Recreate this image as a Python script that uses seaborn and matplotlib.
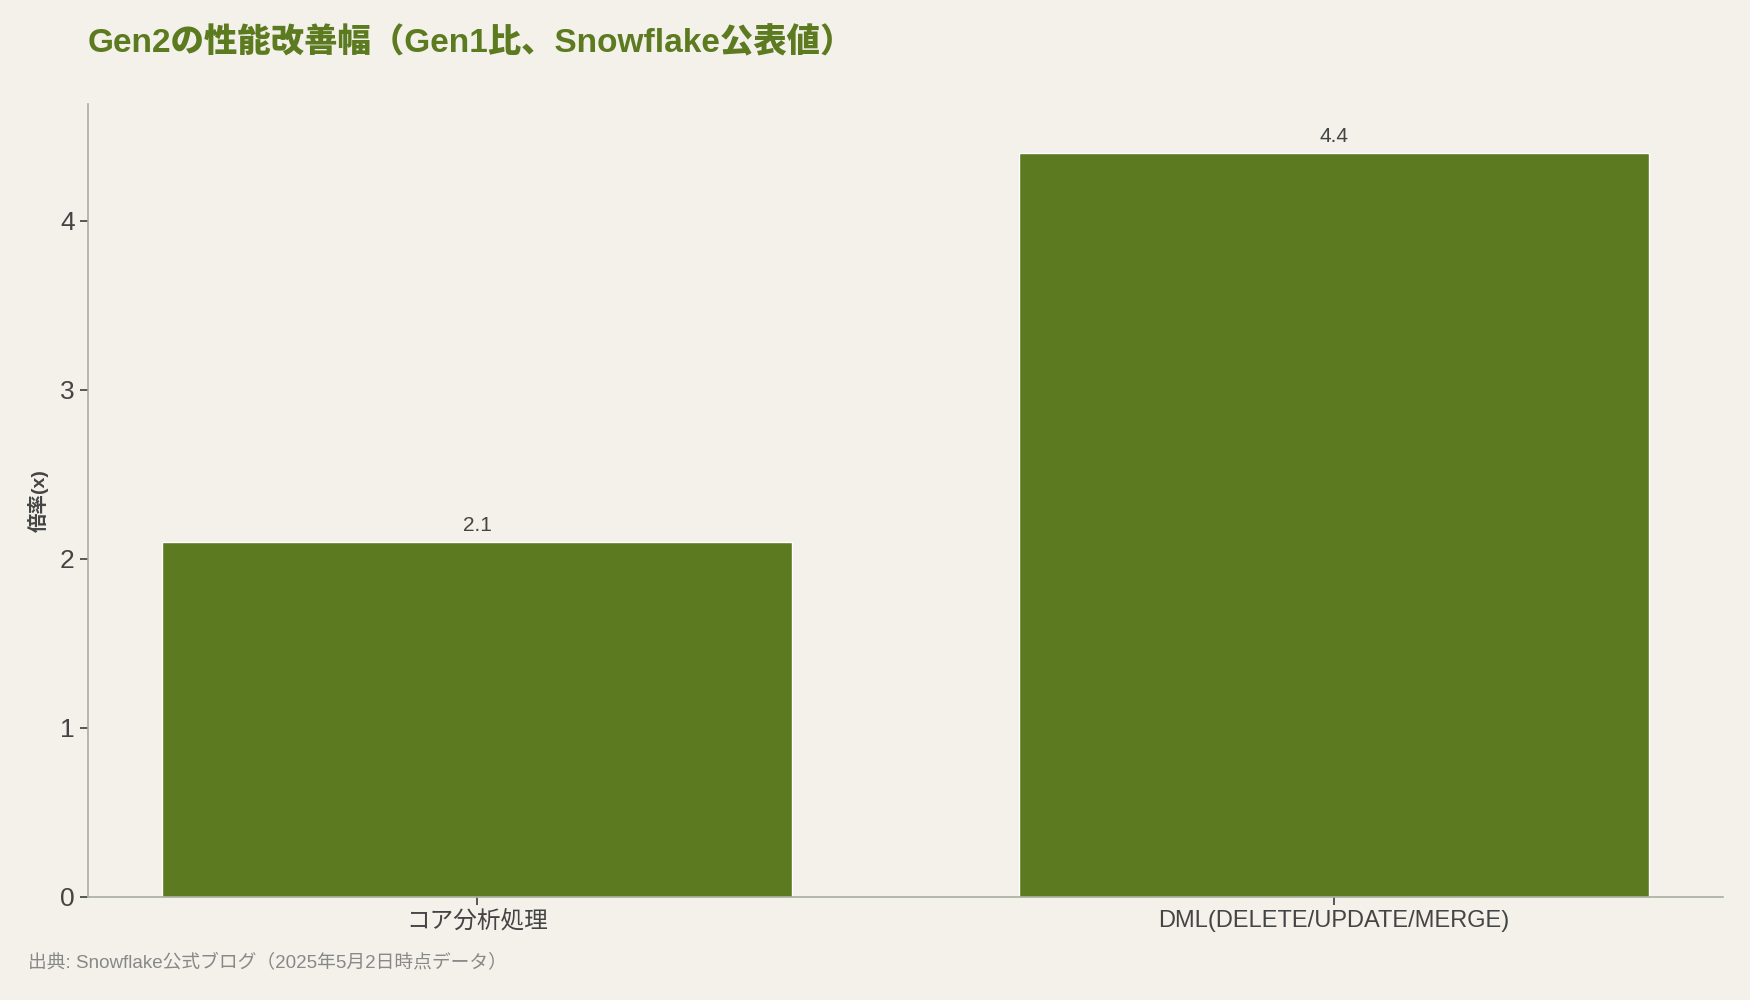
import matplotlib
matplotlib.use("Agg")
import matplotlib.pyplot as plt
import seaborn as sns
import pandas as pd

# data
categories = ["コア分析処理", "DML(DELETE/UPDATE/MERGE)"]
values = [2.1, 4.4]
yticks = [0, 1, 2, 3, 4]

BG = "#F3F1EA"
GREEN = "#5C7A1F"
TEXT = "#444444"
SPINE = "#A9AE9F"

sns.set_theme(style="white")
plt.rcParams["font.family"] = ["Liberation Sans", "Noto Sans CJK JP", "DejaVu Sans"]

df = pd.DataFrame({"category": categories, "value": values})

fig = plt.figure(figsize=(17.5, 10), dpi=100, facecolor=BG)
ax = fig.add_axes([88 / 1750, 1 - 897 / 1000, (1723 - 88) / 1750, (897 - 104) / 1000])
ax.set_facecolor(BG)

sns.barplot(data=df, x="category", y="value", color=GREEN, saturation=1,
            width=0.735, ax=ax)

# value labels above bars
for i, v in enumerate(values):
    ax.text(i, v + 0.04, f"{v:.1f}", ha="center", va="bottom", fontsize=15, color=TEXT)

ax.set_xlim(-0.454, 1.454)
ax.set_ylim(0, 4.69)
ax.set_yticks(yticks)
ax.tick_params(axis="y", labelsize=19, colors=TEXT, length=6, color=TEXT, left=True)
ax.tick_params(axis="x", labelsize=17, colors=TEXT, length=6, color=TEXT, bottom=True)
ax.set_xlabel("")
ax.set_ylabel("倍率(x)", fontsize=14, fontweight="bold", color=TEXT, labelpad=8)

for s in ["top", "right"]:
    ax.spines[s].set_visible(False)
for s in ["left", "bottom"]:
    ax.spines[s].set_color(SPINE)
    ax.spines[s].set_linewidth(1.2)

fig.text(88 / 1750, 1 - 43 / 1000, "Gen2の性能改善幅（Gen1比、Snowflake公表値）",
         fontsize=24, fontweight="heavy", color=GREEN, ha="left", va="center")
fig.text(28 / 1750, 1 - 963 / 1000, "出典: Snowflake公式ブログ（2025年5月2日時点データ）",
         fontsize=13.5, color="#888888", ha="left", va="center")

fig.savefig("out.png", dpi=100, facecolor=BG)
